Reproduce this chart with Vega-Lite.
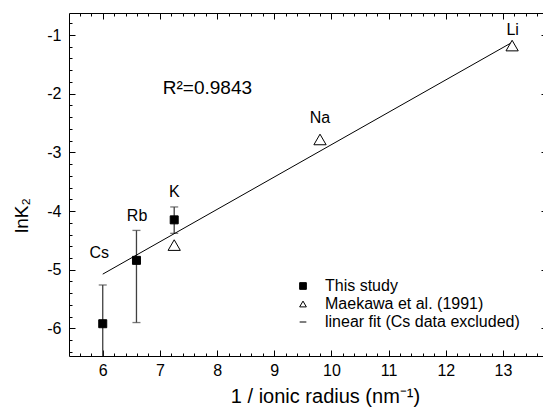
{
  "$schema": "https://vega.github.io/schema/vega-lite/v6.json",
  "autosize": "none",
  "padding": {"left": 69, "top": 13, "right": -4, "bottom": 53},
  "width": 478,
  "height": 343,
  "config": {
    "font": "Liberation Sans",
    "view": {"stroke": "black", "strokeWidth": 1},
    "axis": {
      "domain": false,
      "grid": false,
      "tickColor": "black",
      "tickWidth": 1,
      "labelColor": "black",
      "labelFontSize": 16,
      "labelOverlap": false,
      "labelFlush": false,
      "titleColor": "black",
      "titleFontWeight": "normal",
      "titleFontSize": 19
    }
  },
  "datasets": {
    "ions": [
      {"ion": "Cs", "inv_r": 6.0, "lnK2": -5.92, "lo": -6.58, "hi": -5.26, "series": "This study"},
      {"ion": "Rb", "inv_r": 6.59, "lnK2": -4.84, "lo": -5.9, "hi": -4.33, "series": "This study"},
      {"ion": "K", "inv_r": 7.25, "lnK2": -4.15, "lo": -4.38, "hi": -3.93, "series": "This study"},
      {"ion": "K", "inv_r": 7.25, "lnK2": -4.58, "series": "Maekawa et al. (1991)"},
      {"ion": "Na", "inv_r": 9.8, "lnK2": -2.78, "series": "Maekawa et al. (1991)"},
      {"ion": "Li", "inv_r": 13.16, "lnK2": -1.18, "series": "Maekawa et al. (1991)"}
    ],
    "fit": [
      {"inv_r": 6.0, "lnK2": -5.075},
      {"inv_r": 13.16, "lnK2": -1.125}
    ],
    "notes": [
      {"text": "Cs", "inv_r": 5.94, "lnK2": -4.72},
      {"text": "Rb", "inv_r": 6.6, "lnK2": -4.09},
      {"text": "K", "inv_r": 7.25, "lnK2": -3.68},
      {"text": "Na", "inv_r": 9.8, "lnK2": -2.41},
      {"text": "Li", "inv_r": 13.17, "lnK2": -0.91}
    ],
    "stats": [
      {"text": "R²=0.9843", "inv_r": 7.05, "lnK2": -1.9}
    ]
  },
  "layer": [
    {
      "data": {"name": "ions"},
      "transform": [{"filter": "datum.series === 'This study'"}],
      "mark": {"type": "rule", "color": "#404040", "strokeWidth": 1.3, "clip": true},
      "encoding": {
        "x": {
          "field": "inv_r", "type": "quantitative",
          "scale": {"domain": [5.41, 13.77], "nice": false, "zero": false},
          "axis": {
            "orient": "bottom",
            "title": "1 / ionic radius (nm⁻¹)",
            "titleFontSize": 20,
            "values": [5.6, 5.8, 6, 6.2, 6.4, 6.6, 6.8, 7, 7.2, 7.4, 7.6, 7.8, 8, 8.2, 8.4, 8.6, 8.8, 9, 9.2, 9.4, 9.6, 9.8, 10, 10.2, 10.4, 10.6, 10.8, 11, 11.2, 11.4, 11.6, 11.8, 12, 12.2, 12.4, 12.6, 12.8, 13, 13.2, 13.4, 13.6],
            "tickSize": {"condition": {"test": "abs(datum.value - round(datum.value)) < 0.001", "value": -6}, "value": -3},
            "labelExpr": "abs(datum.value - round(datum.value)) < 0.001 ? toString(round(datum.value)) : ''",
            "labelPadding": 12,
            "titleX": 256,
            "titleY": 40,
            "titleBaseline": "middle",
            "titleAlign": "center"
          }
        },
        "y": {
          "field": "lo", "type": "quantitative",
          "scale": {"domain": [-6.47, -0.625], "nice": false, "zero": false},
          "axis": {
            "orient": "left",
            "title": "lnK₂",
            "values": [-6.4, -6.2, -6, -5.8, -5.6, -5.4, -5.2, -5, -4.8, -4.6, -4.4, -4.2, -4, -3.8, -3.6, -3.4, -3.2, -3, -2.8, -2.6, -2.4, -2.2, -2, -1.8, -1.6, -1.4, -1.2, -1, -0.8],
            "tickSize": {"condition": {"test": "abs(datum.value - round(datum.value)) < 0.001", "value": -6}, "value": -3},
            "labelExpr": "abs(datum.value - round(datum.value)) < 0.001 ? toString(round(datum.value)) : ''",
            "labelPadding": 14,
            "titleX": -48,
            "titleY": 202,
            "titleAngle": 270,
            "titleBaseline": "middle",
            "titleAlign": "center"
          }
        },
        "y2": {"field": "hi"}
      }
    },
    {
      "data": {"name": "ions"},
      "transform": [
        {"filter": "datum.series === 'This study'"},
        {"fold": ["lo", "hi"], "as": ["end", "bound"]}
      ],
      "mark": {"type": "tick", "orient": "horizontal", "color": "#404040", "size": 8, "thickness": 1.3, "clip": true},
      "encoding": {
        "x": {"field": "inv_r", "type": "quantitative", "axis": null},
        "y": {"field": "bound", "type": "quantitative", "axis": null}
      }
    },
    {
      "data": {"name": "fit"},
      "mark": {"type": "line", "color": "black", "strokeWidth": 1},
      "encoding": {
        "x": {
          "field": "inv_r", "type": "quantitative",
          "axis": {
            "orient": "top",
            "title": null,
            "labels": false,
            "values": [5.6, 5.8, 6, 6.2, 6.4, 6.6, 6.8, 7, 7.2, 7.4, 7.6, 7.8, 8, 8.2, 8.4, 8.6, 8.8, 9, 9.2, 9.4, 9.6, 9.8, 10, 10.2, 10.4, 10.6, 10.8, 11, 11.2, 11.4, 11.6, 11.8, 12, 12.2, 12.4, 12.6, 12.8, 13, 13.2, 13.4, 13.6],
            "tickSize": {"condition": {"test": "abs(datum.value - round(datum.value)) < 0.001", "value": -6}, "value": -3}
          }
        },
        "y": {
          "field": "lnK2", "type": "quantitative",
          "axis": {
            "orient": "right",
            "title": null,
            "labels": false,
            "values": [-6.4, -6.2, -6, -5.8, -5.6, -5.4, -5.2, -5, -4.8, -4.6, -4.4, -4.2, -4, -3.8, -3.6, -3.4, -3.2, -3, -2.8, -2.6, -2.4, -2.2, -2, -1.8, -1.6, -1.4, -1.2, -1, -0.8],
            "tickSize": {"condition": {"test": "abs(datum.value - round(datum.value)) < 0.001", "value": -6}, "value": -3}
          }
        }
      }
    },
    {
      "data": {"name": "ions"},
      "transform": [{"filter": "datum.series === 'This study'"}],
      "mark": {"type": "point", "filled": true, "strokeWidth": 1, "opacity": 1, "size": 64},
      "encoding": {
        "x": {"field": "inv_r", "type": "quantitative", "axis": null},
        "y": {"field": "lnK2", "type": "quantitative", "axis": null},
        "shape": {
          "field": "series", "type": "nominal",
          "scale": {
            "domain": ["This study", "Maekawa et al. (1991)", "linear fit (Cs data excluded)"],
            "range": ["square", "triangle-up", "M-1,0H1"]
          },
          "legend": {
            "title": null,
            "orient": "none",
            "legendX": 226,
            "legendY": 265,
            "padding": 0,
            "labelFontSize": 16,
            "labelColor": "black",
            "labelLimit": 0,
            "labelOffset": 14,
            "rowPadding": 2,
            "symbolSize": 45,
            "symbolStrokeWidth": 1
          }
        },
        "fill": {
          "field": "series", "type": "nominal",
          "scale": {
            "domain": ["This study", "Maekawa et al. (1991)", "linear fit (Cs data excluded)"],
            "range": ["black", "white", "black"]
          },
          "legend": {"title": null}
        },
        "stroke": {
          "field": "series", "type": "nominal",
          "scale": {
            "domain": ["This study", "Maekawa et al. (1991)", "linear fit (Cs data excluded)"],
            "range": ["black", "black", "black"]
          },
          "legend": {"title": null}
        }
      }
    },
    {
      "data": {"name": "ions"},
      "transform": [{"filter": "datum.series !== 'This study'"}],
      "mark": {"type": "point", "filled": true, "strokeWidth": 1, "opacity": 1, "size": 150},
      "encoding": {
        "x": {"field": "inv_r", "type": "quantitative", "axis": null},
        "y": {"field": "lnK2", "type": "quantitative", "axis": null},
        "shape": {"field": "series", "type": "nominal"},
        "fill": {"field": "series", "type": "nominal"},
        "stroke": {"field": "series", "type": "nominal"}
      }
    },
    {
      "data": {"name": "notes"},
      "mark": {"type": "text", "fontSize": 16, "color": "black", "align": "center", "baseline": "middle"},
      "encoding": {
        "x": {"field": "inv_r", "type": "quantitative", "axis": null},
        "y": {"field": "lnK2", "type": "quantitative", "axis": null},
        "text": {"field": "text"}
      }
    },
    {
      "data": {"name": "stats"},
      "mark": {"type": "text", "fontSize": 19, "color": "black", "align": "left", "baseline": "middle"},
      "encoding": {
        "x": {"field": "inv_r", "type": "quantitative", "axis": null},
        "y": {"field": "lnK2", "type": "quantitative", "axis": null},
        "text": {"field": "text"}
      }
    }
  ],
  "resolve": {"axis": {"x": "independent", "y": "independent"}}
}
